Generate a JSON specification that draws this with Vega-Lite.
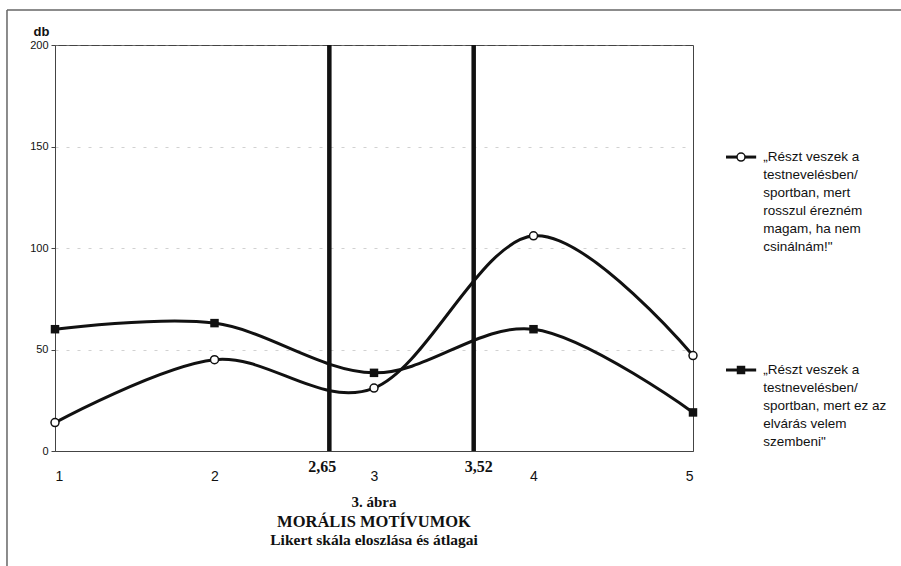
{
  "$schema": "https://vega.github.io/schema/vega-lite/v6.json",
  "width": 638,
  "height": 406,
  "autosize": {"type": "none"},
  "padding": {"left": 55, "top": 45, "right": 208, "bottom": 115},
  "background": "white",
  "config": {
    "view": {"stroke": "#444", "strokeWidth": 1},
    "font": "Liberation Sans"
  },
  "datasets": {
    "main": [
      {"x": 1, "value": 14, "series": "A"},
      {"x": 2, "value": 45, "series": "A"},
      {"x": 3, "value": 31, "series": "A"},
      {"x": 4, "value": 106, "series": "A"},
      {"x": 5, "value": 47, "series": "A"},
      {"x": 1, "value": 60, "series": "B"},
      {"x": 2, "value": 63, "series": "B"},
      {"x": 3, "value": 38.5, "series": "B"},
      {"x": 4, "value": 60, "series": "B"},
      {"x": 5, "value": 19, "series": "B"}
    ],
    "means": [
      {"pos": 2.72, "label": "2,65"},
      {"pos": 3.625, "label": "3,52"}
    ],
    "one": [{}]
  },
  "layer": [
    {
      "data": {"name": "one"},
      "mark": {"type": "rule", "color": "#666", "strokeWidth": 1.5},
      "encoding": {
        "x": {"datum": 0.699, "type": "quantitative", "scale": {"domain": [1, 5], "nice": false}},
        "x2": {"datum": 6.32},
        "y": {"datum": 217.2, "type": "quantitative", "scale": {"domain": [0, 200], "nice": false}}
      }
    },
    {
      "data": {"name": "one"},
      "mark": {"type": "rule", "color": "#666", "strokeWidth": 1.5},
      "encoding": {
        "x": {"datum": 0.699, "type": "quantitative", "scale": {"domain": [1, 5], "nice": false}},
        "y": {"datum": 217.2, "type": "quantitative", "scale": {"domain": [0, 200], "nice": false}},
        "y2": {"datum": -57}
      }
    },
    {
      "data": {"name": "main"},
      "mark": {"type": "line", "interpolate": "cardinal", "strokeWidth": 3, "color": "#111"},
      "encoding": {
        "x": {
          "field": "x", "type": "quantitative",
          "scale": {"domain": [1, 5], "nice": false},
          "axis": {
            "title": null, "values": [1, 2, 3, 4, 5], "format": "d",
            "ticks": false, "labelPadding": 18, "labelFontSize": 14,
            "labelColor": "#111", "domainColor": "#444", "grid": false
          }
        },
        "y": {
          "field": "value", "type": "quantitative",
          "scale": {"domain": [0, 200], "nice": false},
          "axis": {
            "title": "db", "titleAngle": 0, "titleX": -14, "titleY": -10,
            "titleAlign": "center", "titleBaseline": "alphabetic",
            "titleFontWeight": "bold", "titleFontSize": 13, "titleColor": "#111",
            "values": [0, 50, 100, 150, 200], "tickSize": 4, "tickColor": "#444",
            "labelFontSize": 11, "labelPadding": 3, "labelColor": "#111",
            "domainColor": "#444",
            "grid": true, "gridColor": "#999", "gridDash": [3, 8], "gridOpacity": 0.45
          }
        },
        "detail": {"field": "series"}
      }
    },
    {
      "data": {"name": "means"},
      "mark": {"type": "rule", "strokeWidth": 4.5, "color": "#111"},
      "encoding": {
        "x": {"field": "pos", "type": "quantitative", "scale": {"domain": [1, 5], "nice": false}}
      }
    },
    {
      "data": {"name": "means"},
      "transform": [{"filter": "datum.label == '2,65'"}],
      "mark": {"type": "text", "font": "Liberation Serif", "fontWeight": "bold", "fontSize": 16, "baseline": "middle", "align": "center", "dx": -7, "color": "#111"},
      "encoding": {
        "x": {"field": "pos", "type": "quantitative", "scale": {"domain": [1, 5], "nice": false}},
        "y": {"datum": -7.9, "type": "quantitative", "scale": {"domain": [0, 200], "nice": false}},
        "text": {"field": "label"}
      }
    },
    {
      "data": {"name": "means"},
      "transform": [{"filter": "datum.label == '3,52'"}],
      "mark": {"type": "text", "font": "Liberation Serif", "fontWeight": "bold", "fontSize": 16, "baseline": "middle", "align": "center", "dx": 5, "color": "#111"},
      "encoding": {
        "x": {"field": "pos", "type": "quantitative", "scale": {"domain": [1, 5], "nice": false}},
        "y": {"datum": -7.9, "type": "quantitative", "scale": {"domain": [0, 200], "nice": false}},
        "text": {"field": "label"}
      }
    },
    {
      "data": {"name": "main"},
      "transform": [{"filter": "datum.series == 'A'"}],
      "mark": {"type": "point", "shape": "circle", "filled": true, "fill": "white", "stroke": "#111", "strokeWidth": 1.5, "size": 64, "opacity": 1},
      "encoding": {
        "x": {"field": "x", "type": "quantitative", "scale": {"domain": [1, 5], "nice": false}},
        "y": {"field": "value", "type": "quantitative", "scale": {"domain": [0, 200], "nice": false}}
      }
    },
    {
      "data": {"name": "main"},
      "transform": [{"filter": "datum.series == 'B'"}],
      "mark": {"type": "point", "shape": "square", "filled": true, "fill": "#111", "size": 72, "opacity": 1},
      "encoding": {
        "x": {"field": "x", "type": "quantitative", "scale": {"domain": [1, 5], "nice": false}},
        "y": {"field": "value", "type": "quantitative", "scale": {"domain": [0, 200], "nice": false}}
      }
    },
    {
      "data": {"name": "one"},
      "mark": {"type": "rule", "strokeWidth": 3, "color": "#111"},
      "encoding": {
        "x": {"datum": 5.207, "type": "quantitative", "scale": {"domain": [1, 5], "nice": false}},
        "x2": {"datum": 5.396},
        "y": {"datum": 144.8, "type": "quantitative", "scale": {"domain": [0, 200], "nice": false}}
      }
    },
    {
      "data": {"name": "one"},
      "mark": {"type": "rule", "strokeWidth": 3, "color": "#111"},
      "encoding": {
        "x": {"datum": 5.207, "type": "quantitative", "scale": {"domain": [1, 5], "nice": false}},
        "x2": {"datum": 5.396},
        "y": {"datum": 39.9, "type": "quantitative", "scale": {"domain": [0, 200], "nice": false}}
      }
    },
    {
      "data": {"name": "one"},
      "mark": {"type": "point", "shape": "circle", "filled": true, "fill": "white", "stroke": "#111", "strokeWidth": 1.5, "size": 64, "opacity": 1},
      "encoding": {
        "x": {"datum": 5.301, "type": "quantitative", "scale": {"domain": [1, 5], "nice": false}},
        "y": {"datum": 144.8, "type": "quantitative", "scale": {"domain": [0, 200], "nice": false}}
      }
    },
    {
      "data": {"name": "one"},
      "mark": {"type": "point", "shape": "square", "filled": true, "fill": "#111", "size": 72, "opacity": 1},
      "encoding": {
        "x": {"datum": 5.301, "type": "quantitative", "scale": {"domain": [1, 5], "nice": false}},
        "y": {"datum": 39.9, "type": "quantitative", "scale": {"domain": [0, 200], "nice": false}}
      }
    },
    {
      "data": {"values": [{"t": "„Részt veszek a\ntestnevelésben/\nsportban, mert\nrosszul érezném\nmagam, ha nem\ncsinálnám!\""}]},
      "mark": {"type": "text", "align": "left", "baseline": "top", "fontSize": 13.5, "lineHeight": 18, "lineBreak": "\n", "color": "#111"},
      "encoding": {
        "x": {"datum": 5.44, "type": "quantitative", "scale": {"domain": [1, 5], "nice": false}},
        "y": {"datum": 148.3, "type": "quantitative", "scale": {"domain": [0, 200], "nice": false}},
        "text": {"field": "t"}
      }
    },
    {
      "data": {"values": [{"t": "„Részt veszek a\ntestnevelésben/\nsportban, mert ez az\nelvárás velem\nszembeni\""}]},
      "mark": {"type": "text", "align": "left", "baseline": "top", "fontSize": 13.5, "lineHeight": 18, "lineBreak": "\n", "color": "#111"},
      "encoding": {
        "x": {"datum": 5.44, "type": "quantitative", "scale": {"domain": [1, 5], "nice": false}},
        "y": {"datum": 43.3, "type": "quantitative", "scale": {"domain": [0, 200], "nice": false}},
        "text": {"field": "t"}
      }
    },
    {
      "data": {"values": [{"t": "3. ábra"}]},
      "mark": {"type": "text", "font": "Liberation Serif", "fontWeight": "bold", "fontSize": 15, "baseline": "middle", "align": "center", "color": "#111"},
      "encoding": {
        "x": {"datum": 3, "type": "quantitative", "scale": {"domain": [1, 5], "nice": false}},
        "y": {"datum": -25.1, "type": "quantitative", "scale": {"domain": [0, 200], "nice": false}},
        "text": {"field": "t"}
      }
    },
    {
      "data": {"values": [{"t": "MORÁLIS MOTÍVUMOK"}]},
      "mark": {"type": "text", "font": "Liberation Serif", "fontWeight": "bold", "fontSize": 16.5, "baseline": "middle", "align": "center", "color": "#111"},
      "encoding": {
        "x": {"datum": 3, "type": "quantitative", "scale": {"domain": [1, 5], "nice": false}},
        "y": {"datum": -35.0, "type": "quantitative", "scale": {"domain": [0, 200], "nice": false}},
        "text": {"field": "t"}
      }
    },
    {
      "data": {"values": [{"t": "Likert skála eloszlása és átlagai"}]},
      "mark": {"type": "text", "font": "Liberation Serif", "fontWeight": "bold", "fontSize": 15.5, "baseline": "middle", "align": "center", "color": "#111"},
      "encoding": {
        "x": {"datum": 3, "type": "quantitative", "scale": {"domain": [1, 5], "nice": false}},
        "y": {"datum": -43.8, "type": "quantitative", "scale": {"domain": [0, 200], "nice": false}},
        "text": {"field": "t"}
      }
    }
  ]
}
